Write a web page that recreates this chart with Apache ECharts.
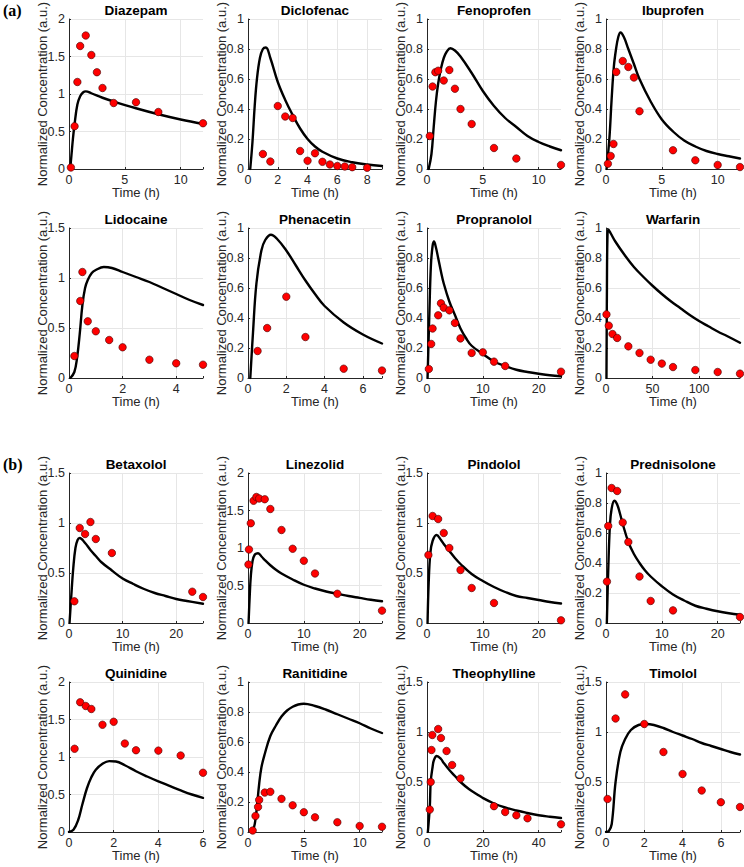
<!DOCTYPE html>
<html><head><meta charset="utf-8">
<script src="https://cdn.jsdelivr.net/npm/echarts@6/dist/echarts.min.js"></script>
<style>html,body{margin:0;padding:0;background:#fff}#c{width:744px;height:867px}</style>
</head><body><div id="c"></div><script>
// ---------- data ----------
const drugNames = ['Diazepam','Diclofenac','Fenoprofen','Ibuprofen','Lidocaine','Phenacetin','Propranolol','Warfarin',
  'Betaxolol','Linezolid','Pindolol','Prednisolone','Quinidine','Ranitidine','Theophylline','Timolol'];
const xMax  = [12, 9, 12, 12, 5, 7, 24, 144, 25, 24, 24, 24, 6, 12, 48, 7];
const xStep = [5, 2, 5, 5, 2, 2, 10, 50, 10, 10, 10, 10, 2, 5, 20, 2];
const yMax  = [2, 1, 1, 1, 1.5, 1, 1, 1, 1.5, 2, 1.5, 1, 2, 1, 1.5, 1.5];
const yStep = [0.5, 0.2, 0.2, 0.2, 0.5, 0.2, 0.2, 0.2, 0.5, 0.5, 0.5, 0.2, 0.5, 0.2, 0.5, 0.5];
const panelLabels = ['(a)', '(b)'];
const xAxisName = 'Time (h)';
const yAxisName = 'Normalized Concentration (a.u.)';

// observed data [time, concentration]
const diazepamObs = [[0.17,0.02],[0.5,0.57],[0.75,1.16],[1,1.64],[1.5,1.78],[2,1.52],[2.5,1.29],[3,1.08],[4,0.88],[6,0.89],[8,0.76],[12,0.61]];
const diclofenacObs = [[1,0.1],[1.5,0.05],[2,0.42],[2.5,0.35],[3,0.34],[3.5,0.12],[4,0.055],[4.5,0.105],[5,0.048],[5.5,0.03],[6,0.02],[6.5,0.017],[7,0.012],[8,0.008]];
const fenoprofenObs = [[0.25,0.22],[0.5,0.55],[0.75,0.645],[1,0.655],[1.5,0.59],[2,0.66],[2.5,0.535],[3,0.4],[4,0.3],[6,0.14],[8,0.07],[12,0.027]];
const ibuprofenObs = [[0.17,0.035],[0.42,0.087],[0.67,0.167],[0.92,0.647],[1.5,0.72],[2,0.68],[2.5,0.61],[3,0.385],[6,0.125],[8,0.058],[10,0.027],[12,0.013]];
const lidocaineObs = [[0.2,0.22],[0.42,0.77],[0.5,1.06],[0.7,0.567],[1,0.467],[1.5,0.38],[2,0.307],[3,0.183],[4,0.147],[5,0.133]];
const phenacetinObs = [[0.5,0.18],[1,0.333],[2,0.542],[3,0.273],[5,0.062],[7,0.05]];
const propranololObs = [[0.33,0.06],[0.75,0.227],[1,0.33],[2,0.418],[2.5,0.498],[3,0.469],[4,0.451],[5,0.367],[6,0.264],[8,0.167],[10,0.171],[12,0.109],[14,0.08],[24,0.042]];
const warfarinObs = [[0.5,0.424],[3,0.349],[7,0.293],[12,0.267],[24,0.211],[36,0.167],[48,0.122],[60,0.096],[72,0.073],[96,0.053],[120,0.04],[144,0.029]];
const betaxololObs = [[1,0.217],[2,0.95],[3,0.89],[4,1.01],[5,0.84],[8,0.7],[23,0.313],[25,0.26]];
const linezolidObs = [[0.08,0.78],[0.17,0.98],[0.5,1.33],[1,1.63],[1.5,1.68],[2,1.66],[3,1.65],[4,1.52],[6,1.24],[8,0.99],[10,0.83],[12,0.66],[16,0.39],[24,0.165]];
const pindololObs = [[0.25,0.68],[1,1.07],[2,1.04],[3,0.9],[4,0.75],[6,0.53],[8,0.35],[12,0.2],[24,0.027]];
const prednisoloneObs = [[0.17,0.276],[0.4,0.647],[1,0.9],[2,0.88],[3,0.67],[4,0.54],[6,0.31],[8,0.147],[12,0.084],[24,0.04]];
const quinidineObs = [[0.25,1.11],[0.5,1.73],[0.75,1.68],[1,1.64],[1.5,1.43],[2,1.47],[2.5,1.18],[3,1.09],[4,1.085],[5,1.02],[6,0.79]];
const ranitidineObs = [[0.42,0.01],[0.67,0.107],[0.9,0.167],[1,0.214],[1.5,0.263],[2,0.268],[3,0.221],[4,0.178],[5,0.132],[6,0.098],[8,0.065],[10,0.04],[12,0.035]];
const theophyllineObs = [[1,0.224],[1.33,0.5],[1.6,0.82],[1.9,0.97],[4,1.03],[5,0.94],[7,0.81],[9,0.67],[12,0.535],[24,0.258],[28,0.2],[32,0.167],[36,0.137],[48,0.077]];
const timololObs = [[0.08,0.33],[0.5,1.135],[1,1.376],[2,1.08],[3,0.8],[4,0.58],[5,0.415],[6,0.298],[7,0.25]];

// model prediction curves [time, concentration]
const diazepamFit = [[0.1,0],[0.2,0.15],[0.35,0.4],[0.5,0.6],[0.75,0.86],[1,0.97],[1.25,1.02],[1.5,1.035],[2,1.01],[3,0.95],[4,0.9],[6,0.81],[8,0.73],[10,0.66],[12,0.6]];
const diclofenacFit = [[0.15,0],[0.3,0.18],[0.45,0.42],[0.6,0.6],[0.8,0.74],[1,0.8],[1.2,0.81],[1.5,0.74],[2,0.58],[2.5,0.46],[3,0.36],[3.5,0.27],[4,0.2],[4.5,0.15],[5,0.115],[6,0.07],[7,0.045],[8,0.03],[9,0.02]];
const fenoprofenFit = [[0.15,0],[0.4,0.1],[0.6,0.28],[0.8,0.45],[1,0.57],[1.25,0.67],[1.5,0.74],[1.75,0.78],[2.1,0.805],[2.5,0.79],[3,0.75],[4,0.64],[5,0.52],[6,0.42],[7,0.34],[8,0.28],[9,0.22],[10,0.18],[11,0.15],[12,0.125]];
const ibuprofenFit = [[0.05,0],[0.3,0.2],[0.5,0.46],[0.7,0.68],[0.9,0.8],[1.1,0.88],[1.3,0.91],[1.6,0.88],[2,0.8],[2.5,0.7],[3,0.6],[4,0.45],[5,0.33],[6,0.25],[7,0.19],[8,0.15],[9,0.12],[10,0.1],[11,0.085],[12,0.07]];
const lidocaineFit = [[0.05,0],[0.2,0.06],[0.3,0.2],[0.4,0.44],[0.5,0.73],[0.6,0.9],[0.7,0.98],[0.85,1.05],[1,1.08],[1.3,1.11],[1.6,1.1],[2,1.06],[2.5,1.01],[3,0.96],[3.5,0.9],[4,0.84],[4.5,0.78],[5,0.73]];
const phenacetinFit = [[0.12,0],[0.26,0.3],[0.44,0.63],[0.7,0.85],[0.9,0.92],[1.2,0.955],[1.5,0.93],[2,0.85],[2.5,0.75],[3,0.65],[3.5,0.56],[4,0.48],[5,0.37],[6,0.29],[7,0.23]];
const propranololFit = [[0.1,0],[0.4,0.4],[0.7,0.75],[1,0.88],[1.25,0.91],[1.6,0.87],[2,0.8],[2.5,0.71],[3,0.63],[4,0.51],[5,0.42],[6,0.33],[7,0.265],[8,0.215],[10,0.16],[12,0.11],[14,0.08],[16,0.055],[18,0.04],[20,0.028],[22,0.018],[24,0.012]];
const warfarinFit = [[0.5,0],[1,0.6],[1.5,0.92],[2.5,0.99],[5,0.965],[10,0.91],[20,0.82],[30,0.74],[40,0.675],[50,0.615],[60,0.56],[70,0.51],[80,0.465],[90,0.42],[100,0.38],[110,0.345],[120,0.31],[130,0.28],[144,0.235]];
const betaxololFit = [[0.1,0],[0.4,0.25],[0.8,0.55],[1.2,0.75],[1.6,0.83],[2,0.85],[3,0.8],[4,0.73],[5,0.67],[6,0.61],[8,0.525],[10,0.445],[12,0.39],[14,0.34],[16,0.3],[18,0.27],[20,0.24],[22,0.22],[25,0.193]];
const linezolidFit = [[0.1,0],[0.3,0.35],[0.5,0.62],[0.8,0.82],[1.2,0.91],[1.8,0.93],[2.5,0.88],[3,0.84],[4,0.77],[5,0.71],[6,0.66],[8,0.58],[10,0.51],[12,0.46],[14,0.42],[16,0.39],[18,0.36],[20,0.335],[22,0.31],[24,0.29]];
const pindololFit = [[0.1,0],[0.3,0.4],[0.6,0.7],[1,0.82],[1.7,0.88],[2.5,0.83],[3,0.79],[4,0.72],[5,0.65],[6,0.59],[8,0.49],[10,0.42],[12,0.36],[14,0.31],[16,0.27],[18,0.25],[20,0.23],[22,0.21],[24,0.195]];
const prednisoloneFit = [[0.15,0],[0.4,0.35],[0.7,0.65],[1,0.76],[1.5,0.815],[2,0.79],[2.5,0.73],[3,0.66],[4,0.54],[5,0.46],[6,0.4],[7,0.35],[8,0.31],[10,0.245],[12,0.19],[14,0.15],[16,0.115],[18,0.095],[20,0.078],[22,0.065],[24,0.055]];
const quinidineFit = [[0,0],[0.2,0.03],[0.4,0.15],[0.6,0.37],[0.8,0.58],[1,0.73],[1.2,0.83],[1.5,0.91],[1.8,0.945],[2.1,0.94],[2.5,0.89],[3,0.81],[3.5,0.74],[4,0.675],[4.5,0.615],[5,0.555],[5.5,0.5],[6,0.455]];
const ranitidineFit = [[0.3,0],[0.5,0.02],[0.7,0.1],[1,0.32],[1.2,0.43],[1.5,0.52],[2,0.64],[2.5,0.71],[3,0.77],[3.5,0.81],[4,0.835],[4.5,0.85],[5,0.855],[6,0.84],[7,0.815],[8,0.785],[9,0.755],[10,0.725],[11,0.69],[12,0.66]];
const theophyllineFit = [[0.3,0],[1,0.25],[1.33,0.5],[2,0.65],[2.5,0.72],[3.5,0.76],[5,0.73],[6,0.69],[8,0.62],[10,0.56],[12,0.5],[15,0.43],[18,0.375],[20,0.34],[24,0.285],[28,0.245],[32,0.215],[36,0.19],[40,0.168],[44,0.153],[48,0.14]];
const timololFit = [[0,0],[0.15,0.01],[0.3,0.08],[0.5,0.5],[0.75,0.8],[1,0.93],[1.3,1.02],[1.7,1.07],[2.1,1.08],[2.5,1.07],[3,1.04],[3.5,1.0],[4,0.965],[4.5,0.93],[5,0.89],[5.5,0.86],[6,0.83],[6.5,0.8],[7,0.775]];

const observed = [diazepamObs, diclofenacObs, fenoprofenObs, ibuprofenObs, lidocaineObs, phenacetinObs, propranololObs, warfarinObs,
  betaxololObs, linezolidObs, pindololObs, prednisoloneObs, quinidineObs, ranitidineObs, theophyllineObs, timololObs];
const fitted = [diazepamFit, diclofenacFit, fenoprofenFit, ibuprofenFit, lidocaineFit, phenacetinFit, propranololFit, warfarinFit,
  betaxololFit, linezolidFit, pindololFit, prednisoloneFit, quinidineFit, ranitidineFit, theophyllineFit, timololFit];

// ---------- layout ----------
const colLeft = [69, 248, 427, 606];
const rowTop = [19, 228, 473, 682];
const PW = 134, PH = 150;
const FONT = '"Liberation Sans", Arial, Helvetica, sans-serif';
const TXT = '#262626';
const GRID = '#e6e6e6';

function onTick(v, step) { const k = v / step; return Math.abs(k - Math.round(k)) < 1e-6; }
function tickFmt(step) { return function (v) { return onTick(v, step) ? String(Math.round(v * 100) / 100) : ''; }; }

const grids = [], xAxes = [], yAxes = [], series = [], graphics = [];
drugNames.forEach(function (name, i) {
  const col = i % 4, row = Math.floor(i / 4);
  grids.push({ left: colLeft[col], top: rowTop[row], width: PW, height: PH, containLabel: false, outerBoundsMode: 'none' });
  xAxes.push({
    gridIndex: i, type: 'value', min: 0, max: xMax[i], interval: xStep[i],
    name: xAxisName, nameLocation: 'middle', nameGap: 17, nameMoveOverlap: false,
    nameTextStyle: { fontSize: 13, color: TXT, fontFamily: FONT },
    axisLine: { show: true, onZero: false, lineStyle: { color: TXT, width: 1 } },
    axisTick: { show: true, inside: true, length: 2, lineStyle: { color: TXT } },
    axisLabel: { formatter: tickFmt(xStep[i]), margin: 4, color: TXT, fontSize: 12.5, fontFamily: FONT, showMinLabel: true, showMaxLabel: true, hideOverlap: false },
    splitLine: { show: true, showMinLine: false, showMaxLine: onTick(xMax[i], xStep[i]), lineStyle: { color: GRID, width: 1 } }
  });
  yAxes.push({
    gridIndex: i, type: 'value', min: 0, max: yMax[i], interval: yStep[i],
    name: yAxisName, nameLocation: 'middle', nameRotate: 90, nameGap: 20, nameMoveOverlap: false,
    nameTextStyle: { fontSize: 13, color: TXT, fontFamily: FONT },
    axisLine: { show: true, onZero: false, lineStyle: { color: TXT, width: 1 } },
    axisTick: { show: true, inside: true, length: 2, lineStyle: { color: TXT } },
    axisLabel: { formatter: tickFmt(yStep[i]), margin: 4, color: TXT, fontSize: 12.5, fontFamily: FONT, showMinLabel: true, showMaxLabel: true, hideOverlap: false },
    splitLine: { show: true, showMinLine: false, showMaxLine: true, lineStyle: { color: GRID, width: 1 } }
  });
  series.push({
    type: 'line', xAxisIndex: i, yAxisIndex: i, data: fitted[i], symbol: 'none', showSymbol: false,
    smooth: 0.4, lineStyle: { color: '#000', width: 2.4, join: 'round', cap: 'round' }, z: 2, silent: true, animation: false
  });
  series.push({
    type: 'scatter', xAxisIndex: i, yAxisIndex: i, data: observed[i], symbol: 'circle', symbolSize: 7.5, clip: false,
    itemStyle: { color: '#ff0000', borderColor: '#400000', borderWidth: 0.6, opacity: 1 }, z: 3, silent: true, animation: false
  });
  graphics.push({
    type: 'text', x: colLeft[col] + PW / 2, y: rowTop[row] - 9,
    style: { text: name, font: 'bold 13.5px ' + FONT, fill: '#000', align: 'center', verticalAlign: 'middle', textAlign: 'center', textVerticalAlign: 'middle' }
  });
});
graphics.push({ type: 'text', x: 3, y: 10, style: { text: panelLabels[0], font: 'bold 16px "Liberation Serif", "Times New Roman", serif', fill: '#000', align: 'left', verticalAlign: 'middle', textAlign: 'left', textVerticalAlign: 'middle' } });
graphics.push({ type: 'text', x: 3, y: 464, style: { text: panelLabels[1], font: 'bold 16px "Liberation Serif", "Times New Roman", serif', fill: '#000', align: 'left', verticalAlign: 'middle', textAlign: 'left', textVerticalAlign: 'middle' } });

const chart = echarts.init(document.getElementById('c'), null, { renderer: 'svg', width: 744, height: 867 });
chart.setOption({
  animation: false,
  backgroundColor: '#ffffff',
  textStyle: { fontFamily: FONT },
  grid: grids, xAxis: xAxes, yAxis: yAxes, series: series, graphic: graphics
});
</script></body></html>
